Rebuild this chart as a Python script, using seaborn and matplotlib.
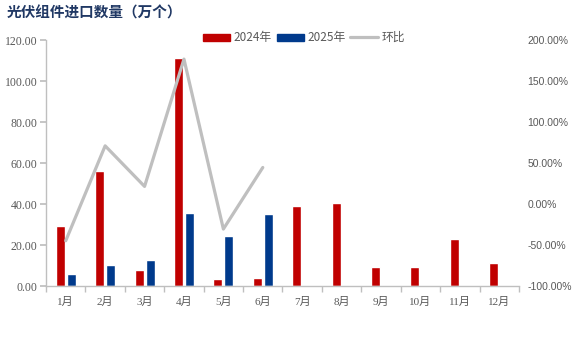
import matplotlib
matplotlib.use("Agg")
import matplotlib.pyplot as plt
import seaborn as sns
import pandas as pd
import numpy as np
from matplotlib.lines import Line2D
from matplotlib.patches import Patch

months = ["1月", "2月", "3月", "4月", "5月", "6月", "7月", "8月", "9月", "10月", "11月", "12月"]
v2024 = [29.4, 56.2, 7.6, 111.4, 3.6, 4.0, 39.2, 40.6, 9.4, 9.4, 23.1, 11.3]
v2025 = [6.0, 10.4, 12.8, 35.8, 24.5, 35.3, None, None, None, None, None, None]
mom = [-44.8, 71.0, 21.5, 176.8, -30.5, 44.6]  # 环比, %

sns.set_theme(style="white")
plt.rcParams['font.family'] = ['Noto Sans CJK SC', 'DejaVu Sans']

RED = "#C00000"
BLUE = "#003A8C"
GRAY = "#BFBFBF"
TXT = "#595959"

rows = []
for m, a, b in zip(months, v2024, v2025):
    rows.append({"month": m, "year": "2024年", "value": a})
    rows.append({"month": m, "year": "2025年", "value": b if b is not None else np.nan})
df = pd.DataFrame(rows)

fig = plt.figure(figsize=(5.79, 3.37), dpi=100)
ax = fig.add_axes([0.0795, 0.1513, 0.8168, 0.7297])

sns.barplot(data=df, x="month", y="value", hue="year", order=months,
            hue_order=["2024年", "2025年"], palette=[RED, BLUE],
            width=0.56, gap=0.18, legend=False, ax=ax, saturation=1)

ax.set_xlim(-0.5, 11.5)
ax.set_ylim(0, 120)
ax.set_yticks(np.arange(0, 121, 20))
ax.set_yticklabels([f"{v:.2f}" for v in np.arange(0, 121, 20)],
                   family=["Liberation Serif"], fontsize=8.5, color=TXT)
ax.set_xticks(range(12))
ax.set_xticklabels(months, fontsize=8, color=TXT, family=["Liberation Serif", "Noto Sans CJK SC"])
ax.set_xlabel("")
ax.set_ylabel("")
for s in ["top", "right"]:
    ax.spines[s].set_visible(False)
for s in ["left", "bottom"]:
    ax.spines[s].set_color("#BFBFBF")
    ax.spines[s].set_linewidth(1.0)
ax.tick_params(axis="y", left=True, length=4, color="#BFBFBF", pad=2)
ax.tick_params(axis="x", bottom=False, pad=2)
# category boundary ticks on bottom axis
ax.set_xticks(np.arange(-0.5, 12, 1), minor=True)
ax.tick_params(axis="x", which="minor", bottom=True, length=4, color="#BFBFBF")

ax2 = ax.twinx()
sns.lineplot(x=list(range(len(mom))), y=mom, color=GRAY, linewidth=2.3, ax=ax2)
ax2.set_ylim(-100, 200)
ax2.set_yticks(np.arange(-100, 201, 50))
ax2.set_yticklabels([f"{v:.2f}%" for v in np.arange(-100, 201, 50)],
                    fontsize=7.5, color=TXT, family=["Liberation Sans"])
ax2.tick_params(axis="y", right=False, length=0, pad=6)
for s in ["top", "right", "left", "bottom"]:
    ax2.spines[s].set_visible(False)
ax2.set_xlim(-0.5, 11.5)

handles = [Patch(facecolor=RED, edgecolor=RED), Patch(facecolor=BLUE, edgecolor=BLUE),
           Line2D([0], [0], color=GRAY, linewidth=2.3)]
fig.legend(handles, ["2024年", "2025年", "环比"], loc="center", bbox_to_anchor=(0.525, 0.888),
           ncol=3, frameon=False, fontsize=8.5, labelcolor=TXT, handlelength=2.3,
           handleheight=0.55, handletextpad=0.3, columnspacing=0.4)

fig.text(0.012, 0.962, "光伏组件进口数量（万个）", fontsize=10.5, fontweight="bold",
         color="#203864", ha="left", va="center")

fig.savefig("out.png", dpi=100)
